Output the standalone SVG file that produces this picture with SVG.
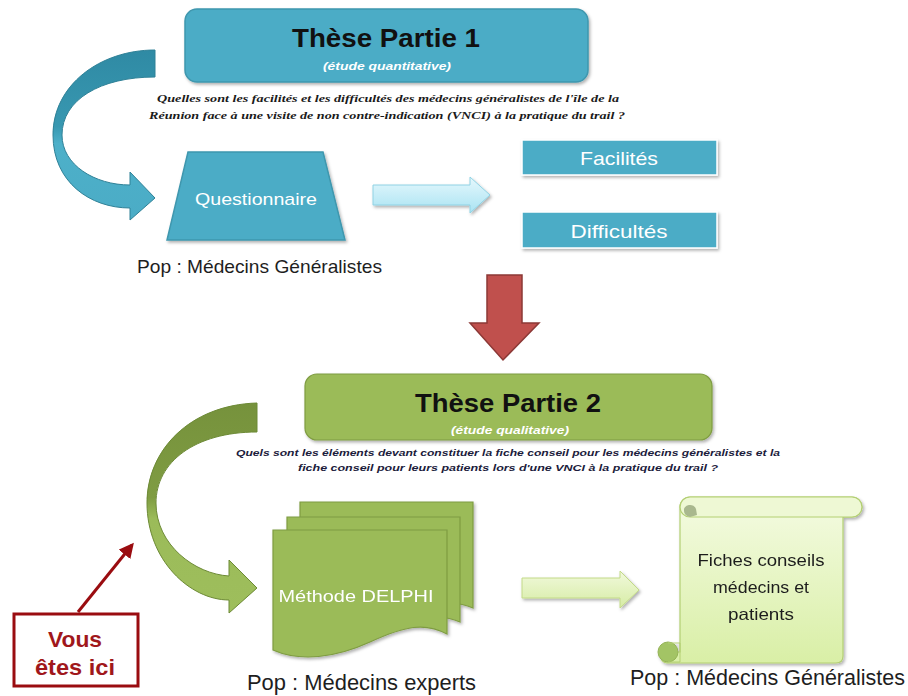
<svg xmlns="http://www.w3.org/2000/svg" width="908" height="696" viewBox="0 0 908 696">
<defs>
<style>
.sans{font-family:"Liberation Sans","Open Sans",Arial,sans-serif}
.title{font-family:"Liberation Sans",Arial,sans-serif;font-weight:bold;font-size:25px;fill:#111}
.sub{font-family:"Liberation Sans",Arial,sans-serif;font-weight:bold;font-style:italic;font-size:10px;fill:#fff}
.q1{font-family:"Liberation Serif","Times New Roman",serif;font-style:italic;font-weight:bold;font-size:11px;fill:#1a1a1a}
.q2{font-family:"Liberation Sans",Arial,sans-serif;font-style:italic;font-weight:bold;font-size:9.5px;fill:#1c1c3c}
.wt{font-family:"Liberation Sans",Arial,sans-serif;fill:#fff}
.pop{font-family:"Liberation Sans",Arial,sans-serif;fill:#1e1e1e}
.teal{fill:#4bacc6;stroke:#3f97ae;stroke-width:1.5}
.green{fill:#9bbb59;stroke:#7f9c42;stroke-width:1.2}
</style>
<filter id="sh" x="-10%" y="-10%" width="125%" height="130%">
<feDropShadow dx="1.5" dy="2" stdDeviation="1.5" flood-color="#000" flood-opacity="0.3"/>
</filter>
<linearGradient id="gTeal" x1="0" y1="0" x2="0" y2="1">
<stop offset="0" stop-color="#2f8aa4"/><stop offset="0.45" stop-color="#3898b1"/><stop offset="0.55" stop-color="#4db0c9"/><stop offset="1" stop-color="#4bacc6"/>
</linearGradient>
<linearGradient id="gGreen" x1="0" y1="0" x2="0" y2="1">
<stop offset="0" stop-color="#76923c"/><stop offset="0.45" stop-color="#7f9c42"/><stop offset="0.55" stop-color="#9bbb59"/><stop offset="1" stop-color="#9ebe5c"/>
</linearGradient>
<linearGradient id="gCyan" x1="0" y1="0" x2="0" y2="1">
<stop offset="0" stop-color="#e6f8fd"/><stop offset="1" stop-color="#a9e3f2"/>
</linearGradient>
<linearGradient id="gLime" x1="0" y1="0" x2="0" y2="1">
<stop offset="0" stop-color="#f1f9dc"/><stop offset="1" stop-color="#d6eca4"/>
</linearGradient>
<linearGradient id="gScroll" x1="0" y1="0" x2="0" y2="1">
<stop offset="0" stop-color="#f4fbe2"/><stop offset="1" stop-color="#d9efa6"/>
</linearGradient>
<marker id="redHead" viewBox="0 0 10 10" refX="8" refY="5" markerWidth="5" markerHeight="5" orient="auto">
<path d="M0,0 L10,5 L0,10 Z" fill="#9a0c10"/>
</marker>
</defs>
<rect width="908" height="696" fill="#fff"/>

<g id="connectors">
<path id="curve1" d="M155,50 C100,50 53,85 53,135 C53,182 90,208 130,208 L130,220 L155,198 L130,172 L130,185 C95,185 62,165 62,135 C62,100 100,77 155,77 Z" fill="url(#gTeal)" stroke="#2f8197" stroke-width="1"/>
<path id="arrowCyan" d="M373,185 L470,185 L470,177 L490,195 L470,213 L470,205 L373,205 Z" fill="url(#gCyan)" stroke="#8fd2e4" stroke-width="1" filter="url(#sh)"/>
<path id="arrowRed" d="M487,275 L522,275 L522,323 L539,323 L503,360 L470,323 L487,323 Z" fill="#c0504d" stroke="#8c3836" stroke-width="1.5"/>
<path id="curve2" d="M257,403 C190,405 147,450 147,503 C147,560 190,600 229,600 L229,613 L257,588 L229,560 L229,576 C195,574 156,545 156,503 C156,462 195,432 257,432 Z" fill="url(#gGreen)" stroke="#6d8a36" stroke-width="1"/>
<path id="arrowLime" d="M522,578 L620,578 L620,571 L639,590 L620,608 L620,598 L522,598 Z" fill="url(#gLime)" stroke="#c3da88" stroke-width="1" filter="url(#sh)"/>
<line id="pointer" x1="78" y1="612" x2="132" y2="545" stroke="#9a0c10" stroke-width="3" marker-end="url(#redHead)"/>
</g>

<g id="node-partie1">
<rect x="185" y="9" width="403" height="73" rx="12" class="teal" filter="url(#sh)"/>
<text x="386" y="47" text-anchor="middle" class="title" textLength="188" lengthAdjust="spacingAndGlyphs">Thèse Partie 1</text>
<text x="387" y="70" text-anchor="middle" class="sub" textLength="128" lengthAdjust="spacingAndGlyphs">(étude quantitative)</text>
</g>

<g id="node-question1">
<text x="388" y="102" text-anchor="middle" class="q1" textLength="462" lengthAdjust="spacingAndGlyphs">Quelles sont les facilités et les difficultés des médecins généralistes de l'île de la</text>
<text x="387" y="119" text-anchor="middle" class="q1" textLength="476" lengthAdjust="spacingAndGlyphs">Réunion face à une visite de non contre-indication (VNCI) à la pratique du trail ?</text>
</g>

<g id="node-questionnaire">
<path d="M188,152 L323,152 L345,240 L167,240 Z" class="teal" filter="url(#sh)"/>
<text x="256" y="205" text-anchor="middle" class="wt" font-size="17" textLength="122" lengthAdjust="spacingAndGlyphs">Questionnaire</text>
</g>

<g id="node-pop1">
<text x="137" y="273" class="pop" font-size="19" textLength="245" lengthAdjust="spacingAndGlyphs">Pop : Médecins Généralistes</text>
</g>

<g id="node-facilites">
<rect x="522" y="140" width="195" height="35" fill="#4bacc6" stroke="#fff" stroke-width="1.5" filter="url(#sh)"/>
<text x="619" y="165" text-anchor="middle" class="wt" font-size="19" textLength="78" lengthAdjust="spacingAndGlyphs">Facilités</text>
</g>

<g id="node-difficultes">
<rect x="522" y="212" width="195" height="36" fill="#4bacc6" stroke="#fff" stroke-width="1.5" filter="url(#sh)"/>
<text x="619" y="238" text-anchor="middle" class="wt" font-size="19" textLength="97" lengthAdjust="spacingAndGlyphs">Difficultés</text>
</g>

<g id="node-partie2">
<rect x="305" y="374" width="407" height="66" rx="12" class="green" filter="url(#sh)"/>
<text x="508" y="412" text-anchor="middle" class="title" textLength="186" lengthAdjust="spacingAndGlyphs">Thèse Partie 2</text>
<text x="510" y="434" text-anchor="middle" class="sub" textLength="118" lengthAdjust="spacingAndGlyphs">(étude qualitative)</text>
</g>

<g id="node-question2">
<text x="508" y="456" text-anchor="middle" class="q2" textLength="544" lengthAdjust="spacingAndGlyphs">Quels sont les éléments devant constituer la fiche conseil pour les médecins généralistes  et la</text>
<text x="508" y="471" text-anchor="middle" class="q2" textLength="420" lengthAdjust="spacingAndGlyphs">fiche conseil pour leurs patients lors d'une  VNCI à la pratique du trail ?</text>
</g>

<g id="node-delphi" filter="url(#sh)">
<path d="M300,502 L473,502 L473,608 C455,600 440,603 420,610 L300,610 Z" class="green"/>
<path d="M287,517 L460,517 L460,622 C442,614 427,617 407,624 L287,624 Z" class="green"/>
<path d="M273,530 L447,530 L447,634 C425,622 405,626 370,642 C335,658 300,662 273,650 Z" class="green"/>
<text x="356" y="602" text-anchor="middle" class="wt" font-size="16.5" textLength="155" lengthAdjust="spacingAndGlyphs">Méthode DELPHI</text>
</g>

<g id="node-pop2">
<text x="247" y="690" class="pop" font-size="22" textLength="229" lengthAdjust="spacingAndGlyphs">Pop : Médecins experts</text>
</g>

<g id="node-fiches" filter="url(#sh)">
<path d="M680,507 L680,652 L670,652 C660,652 658,662 667,663 L836,663 Q843,663 843,656 L843,517 L852,517 A10,10 0 0 0 852,497 L690,497 A10,10 0 0 0 680,507 Z" fill="url(#gScroll)" stroke="#b3cf73" stroke-width="1.2"/>
<path d="M690,497 A10,10 0 0 0 690,517 L852,517 A10,10 0 0 0 852,497 Z" fill="#eef8d4" stroke="#b3cf73" stroke-width="1.2"/>
<path d="M684,511 A6,5 0 0 1 696,509 L697,515 L690,517 A7,6 0 0 1 684,511 Z" fill="#a9b88e"/>
<circle cx="668" cy="652" r="10" fill="#a3c465" stroke="#94b356" stroke-width="1"/>
<path d="M668,643 L680,643 L680,662 L668,662" fill="none" stroke="#b3cf73" stroke-width="1"/>
<text x="761" y="566" text-anchor="middle" class="pop" fill="#333" font-size="16.5" textLength="127" lengthAdjust="spacingAndGlyphs">Fiches conseils</text>
<text x="761" y="593" text-anchor="middle" class="pop" fill="#333" font-size="16.5" textLength="96" lengthAdjust="spacingAndGlyphs">médecins et</text>
<text x="761" y="620" text-anchor="middle" class="pop" fill="#333" font-size="16.5" textLength="66" lengthAdjust="spacingAndGlyphs">patients</text>
</g>

<g id="node-pop3">
<text x="630" y="685" class="pop" font-size="21.5" textLength="275" lengthAdjust="spacingAndGlyphs">Pop : Médecins Généralistes</text>
</g>

<g id="node-vous">
<rect x="14" y="614" width="124" height="72" fill="#fff" stroke="#9a0c10" stroke-width="3"/>
<text x="75" y="647" text-anchor="middle" class="sans" font-weight="bold" font-size="22" fill="#a0171b" textLength="54" lengthAdjust="spacingAndGlyphs">Vous</text>
<text x="75" y="675" text-anchor="middle" class="sans" font-weight="bold" font-size="22" fill="#a0171b" textLength="80" lengthAdjust="spacingAndGlyphs">êtes ici</text>
</g>
</svg>
